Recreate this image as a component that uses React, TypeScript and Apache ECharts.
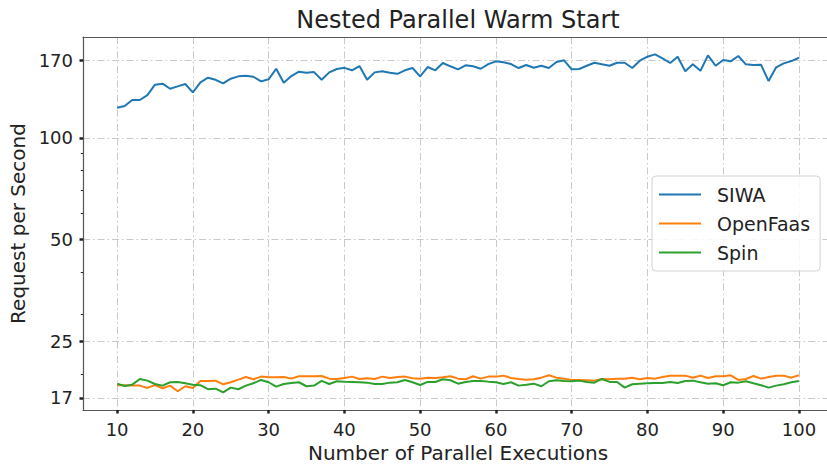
import React, { useEffect, useRef } from "react";
import * as echarts from "echarts";

const executions = [
  10, 11, 12, 13, 14, 15, 16, 17, 18, 19, 20, 21, 22, 23, 24, 25, 26, 27, 28, 29,
  30, 31, 32, 33, 34, 35, 36, 37, 38, 39, 40, 41, 42, 43, 44, 45, 46, 47, 48, 49,
  50, 51, 52, 53, 54, 55, 56, 57, 58, 59, 60, 61, 62, 63, 64, 65, 66, 67, 68, 69,
  70, 71, 72, 73, 74, 75, 76, 77, 78, 79, 80, 81, 82, 83, 84, 85, 86, 87, 88, 89,
  90, 91, 92, 93, 94, 95, 96, 97, 98, 99, 100,
];

const siwa = [
  122.8, 124.3, 129.5, 129.5, 133.9, 143.7, 144.7, 139.8, 142.1, 144.4,
  136.4, 146.0, 150.7, 148.6, 145.0, 149.7, 152.1, 152.7, 151.7, 147.0,
  149.1, 160.2, 145.6, 152.4, 157.0, 155.9, 156.6, 148.6, 156.3, 159.9,
  161.2, 158.5, 163.2, 148.6, 156.3, 157.4, 155.9, 154.8, 158.5, 161.0,
  152.1, 162.1, 158.5, 166.6, 162.9, 159.6, 164.0, 162.9, 160.2, 165.4,
  168.5, 167.4, 165.4, 161.0, 164.3, 161.3, 163.5, 161.0, 167.7, 169.7,
  159.6, 159.9, 163.5, 166.9, 165.1, 163.5, 166.9, 166.9, 161.0, 169.2,
  173.9, 176.7, 172.0, 166.6, 173.9, 157.4, 165.1, 158.0, 175.5, 163.5,
  170.0, 168.5, 174.7, 165.1, 164.3, 164.6, 147.3, 161.8, 166.2, 168.8,
  172.7,
];

const openfaas = [
  18.54, 18.54, 18.49, 18.49, 18.2, 18.57, 18.16, 18.49, 17.79, 18.41,
  18.2, 19.09, 19.09, 19.13, 18.66, 18.92, 19.26, 19.61, 19.31, 19.66,
  19.58, 19.58, 19.61, 19.39, 19.71, 19.71, 19.71, 19.75, 19.39, 19.35,
  19.48, 19.66, 19.35, 19.44, 19.35, 19.66, 19.48, 19.61, 19.66, 19.44,
  19.39, 19.52, 19.48, 19.58, 19.71, 19.39, 19.31, 19.71, 19.39, 19.66,
  19.66, 19.79, 19.48, 19.35, 19.26, 19.31, 19.52, 19.84, 19.52, 19.39,
  19.2, 19.22, 19.18, 19.13, 19.35, 19.31, 19.39, 19.39, 19.52, 19.31,
  19.48, 19.39, 19.61, 19.79, 19.79, 19.79, 19.52, 19.79, 19.48, 19.71,
  19.71, 19.84, 19.22, 19.35, 19.75, 19.39, 19.61, 19.79, 19.79, 19.52,
  19.84,
];

const spin = [
  18.74, 18.45, 18.61, 19.35, 19.13, 18.7, 18.49, 18.92, 18.96, 18.79,
  18.61, 18.54, 18.04, 18.11, 17.67, 18.24, 18.04, 18.49, 18.79, 19.22,
  18.92, 18.36, 18.7, 18.83, 18.92, 18.41, 18.49, 19.09, 18.7, 19.05,
  18.98, 18.96, 18.92, 18.87, 18.7, 18.7, 18.87, 18.92, 19.22, 18.92,
  18.57, 18.96, 18.96, 19.31, 19.18, 18.74, 18.96, 19.09, 19.09, 19.0,
  18.92, 18.7, 18.92, 18.49, 18.61, 18.74, 18.41, 19.05, 19.18, 19.09,
  19.05, 19.13, 18.96, 18.87, 19.35, 18.96, 18.96, 18.24, 18.66, 18.74,
  18.79, 18.83, 18.83, 18.96, 18.83, 19.09, 19.13, 18.92, 18.74, 18.79,
  18.54, 18.92, 18.87, 19.05, 18.79, 18.54, 18.24, 18.49, 18.66, 18.92,
  19.09,
];

const seriesNames = ["SIWA", "OpenFaas", "Spin"];
const seriesColors = ["#1f77b4", "#ff7f0e", "#2ca02c"];
const xTicks = [10, 20, 30, 40, 50, 60, 70, 80, 90, 100];
const yMajorTicks = [17, 25, 50, 100, 170];
const yMinorTicks = [20, 30, 40, 60, 70, 80, 90];

const FONT = "DejaVu Sans";

export default function App() {
  const ref = useRef<HTMLDivElement>(null);

  useEffect(() => {
    document.body.style.margin = "0";
    const chart = echarts.init(ref.current!, null, { renderer: "svg" });
    const pairs = (vals: number[]) => executions.map((x, i) => [x, vals[i]]);
    const gridLine = {
      show: true,
      lineStyle: { color: "#c9c9c9", width: 1, type: [7, 3, 1.5, 3] },
    };
    const spine = { show: true, lineStyle: { color: "#555", width: 1.2 } };
    const yMin = 15.66;
    const yMax = 198.9;

    chart.setOption({
      animation: false,
      textStyle: { fontFamily: FONT },
      title: {
        text: "Nested Parallel Warm Start",
        left: 458,
        top: 8,
        padding: 0,
        textAlign: "center",
        textStyle: { fontFamily: FONT, fontSize: 24, fontWeight: "normal", color: "#222" },
      },
      grid: { left: 83, top: 37, width: 750, height: 373, outerBoundsMode: "none" },
      legend: {
        orient: "vertical",
        left: 652,
        top: 176,
        padding: [9, 10, 9, 7],
        itemWidth: 42,
        itemHeight: 2,
        itemGap: 10,
        icon: "rect",
        borderColor: "#d3d3d3",
        borderWidth: 1,
        borderRadius: 4,
        backgroundColor: "rgba(255,255,255,0.85)",
        textStyle: { fontFamily: FONT, fontSize: 19, color: "#222", padding: [0, 0, 0, 11] },
        data: seriesNames,
      },
      xAxis: [
        {
          type: "value",
          min: 5.5,
          max: 104.5,
          position: "bottom",
          name: "Number of Parallel Executions",
          nameLocation: "middle",
          nameGap: 32,
          nameTextStyle: { fontFamily: FONT, fontSize: 20, color: "#222" },
          axisLine: spine,
          axisTick: { show: true, customValues: xTicks, length: 3.5, lineStyle: { color: "#222", width: 2.5 } },
          axisLabel: {
            customValues: xTicks,
            margin: 10,
            fontFamily: FONT,
            fontSize: 18,
            color: "#222",
          },
          splitLine: gridLine,
        },
        {
          type: "value",
          min: 5.5,
          max: 104.5,
          position: "top",
          axisLine: spine,
          axisTick: { show: false },
          axisLabel: { show: false },
          splitLine: { show: false },
        },
      ],
      yAxis: [
        {
          type: "log",
          logBase: 10,
          min: yMin,
          max: yMax,
          position: "left",
          name: "Request per Second",
          nameLocation: "middle",
          nameGap: 53,
          nameTextStyle: { fontFamily: FONT, fontSize: 20, color: "#222" },
          axisLine: spine,
          axisTick: { show: true, customValues: yMajorTicks, length: 3.5, lineStyle: { color: "#222", width: 2.5 } },
          axisLabel: {
            customValues: yMajorTicks,
            margin: 10,
            fontFamily: FONT,
            fontSize: 18,
            color: "#222",
            formatter: (v: number) => String(Math.round(v)),
          },
          splitLine: gridLine,
          minorTick: { show: false },
        },
        {
          type: "log",
          logBase: 10,
          min: yMin,
          max: yMax,
          position: "left",
          axisLine: { show: false },
          axisTick: { show: true, customValues: yMinorTicks, length: 2.2, lineStyle: { color: "#222", width: 1 } },
          axisLabel: { show: false },
          splitLine: { show: false },
        },
      ],
      series: [siwa, openfaas, spin].map((vals, i) => ({
        name: seriesNames[i],
        type: "line",
        xAxisIndex: 0,
        yAxisIndex: 0,
        data: pairs(vals),
        showSymbol: false,
        symbol: "none",
        color: seriesColors[i],
        lineStyle: { color: seriesColors[i], width: 2 },
        z: 3 + i,
      })),
    });
    return () => chart.dispose();
  }, []);

  return (
    <div
      ref={ref}
      style={{ position: "absolute", left: 0, top: 0, width: 827, height: 466 }}
    />
  );
}
